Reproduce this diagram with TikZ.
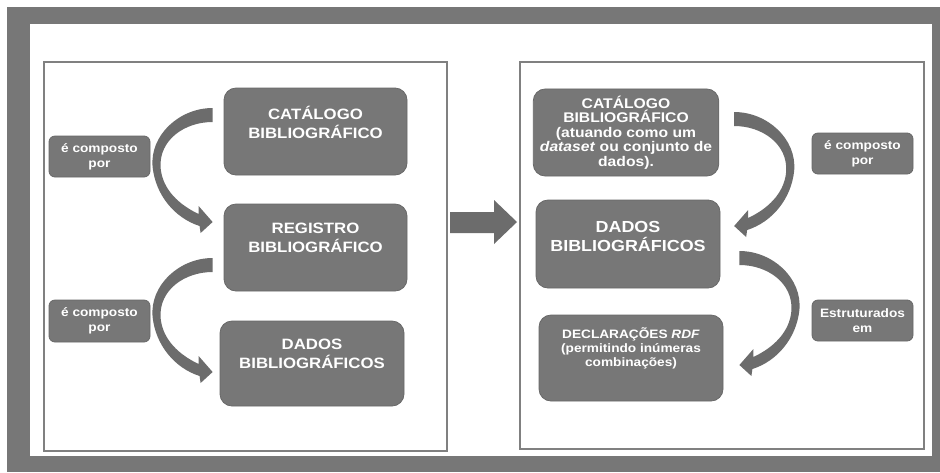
\documentclass[tikz,border=0pt]{standalone}
\usepackage{fontspec}
\setmainfont{Liberation Sans}[FakeStretch=1.12]
\usetikzlibrary{calc}

\definecolor{framegray}{HTML}{777777}
\definecolor{boxgray}{HTML}{777777}
\definecolor{boxline}{HTML}{686868}
\definecolor{panelline}{HTML}{808080}
\definecolor{arrowgray}{HTML}{6C6C6C}

\tikzset{
  bigbox/.style={draw=boxline, fill=boxgray, rounded corners=6pt, text=white,
    align=center, minimum width=91.5pt, minimum height=43.5pt,
    font=\bfseries\fontsize{7.5}{9.5}\selectfont},
  smallbox/.style={draw=boxline, fill=boxgray, rounded corners=3pt, text=white,
    align=center, minimum width=50.5pt, minimum height=20.5pt,
    font=\bfseries\fontsize{6.1}{7.5}\selectfont},
  panel/.style={draw=panelline, line width=1pt},
  bendarrow/.pic={
    \fill[arrowgray] (0,0) .. controls (-33,0) and (-63,27) .. (-60,59)
      .. controls (-57,87) and (-38,110) .. (-13,118)
      -- (-12,125) -- (0,114) -- (-14,98) -- (-14,106)
      .. controls (-33,97) and (-50,82) .. (-52,60)
      .. controls (-54,32) and (-28,14) .. (0,14) -- cycle;
  }
}

\begin{document}
\begin{tikzpicture}[x=0.5pt, y=-0.5pt]
\useasboundingbox (0,0) rectangle (940,472);
% frame
\fill[framegray] (7,7) rectangle (940,472);
\fill[white] (30,24) rectangle (932,456);

% panels
\node [panel, minimum width=201.5pt, minimum height=194.5pt] (lpanel) at (245.5,256.5) {};
\node [panel, minimum width=202pt, minimum height=193.5pt] (rpanel) at (722,255.5) {};

% left side
\node [bigbox] (cat) at (315.5,131.5) {CATÁLOGO\\BIBLIOGRÁFICO\\\mbox{}};
\node [bigbox] (reg) at (315.5,247.5) {REGISTRO\\BIBLIOGRÁFICO\\\mbox{}};
\node [bigbox, minimum width=92pt, minimum height=42.5pt] (dados) at (312,363.5) {DADOS\\BIBLIOGRÁFICOS\\\mbox{}};
\node [smallbox] (comp1) at (99.5,156.5) {é composto\\por};
\node [smallbox, minimum height=21pt] (comp2) at (99.5,321) {é composto\\por};

\pic at ($(cat.west)+(-11,-23.5)$) {bendarrow};
\pic at ($(reg.west)+(-11,10.5)$) {bendarrow};

% middle arrow
\fill[arrowgray] ($(lpanel.east)+(2,-44.5)$) -- ++(44,0) -- ++(0,-12)
  -- ($(rpanel.west)+(-2,-33.5)$) -- ($(lpanel.east)+(46,-12.5)$)
  -- ++(0,-11) -- ($(lpanel.east)+(2,-23.5)$) -- cycle;

% right side
\node [bigbox, minimum width=92pt, font=\bfseries\fontsize{7}{7.3}\selectfont] (rcat) at (626,132.5)
  {CATÁLOGO\\BIBLIOGRÁFICO\\(atuando como um\\\textit{dataset} ou conjunto de\\dados).};
\node [bigbox, minimum width=92pt, minimum height=44pt, font=\bfseries\fontsize{8}{9.5}\selectfont] (rdados) at (628,244)
  {DADOS\\BIBLIOGRÁFICOS\\[-2pt]\mbox{}};
\node [bigbox, minimum width=92pt, minimum height=43pt, font=\bfseries\fontsize{6.1}{7}\selectfont] (rdecl) at (631,358)
  {DECLARAÇÕES \textit{RDF}\\(permitindo inúmeras\\combinações)\\[4pt]\mbox{}};
\node [smallbox] (rcomp) at (862.5,153.5) {é composto\\por};
\node [smallbox] (estr) at (862.5,320.5) {Estruturados\\em};

\pic[xscale=-1] at ($(rcat.east)+(15,-20.5)$) {bendarrow};
\pic[xscale=-1] at ($(rdados.east)+(19,7)$) {bendarrow};
\end{tikzpicture}
\end{document}
